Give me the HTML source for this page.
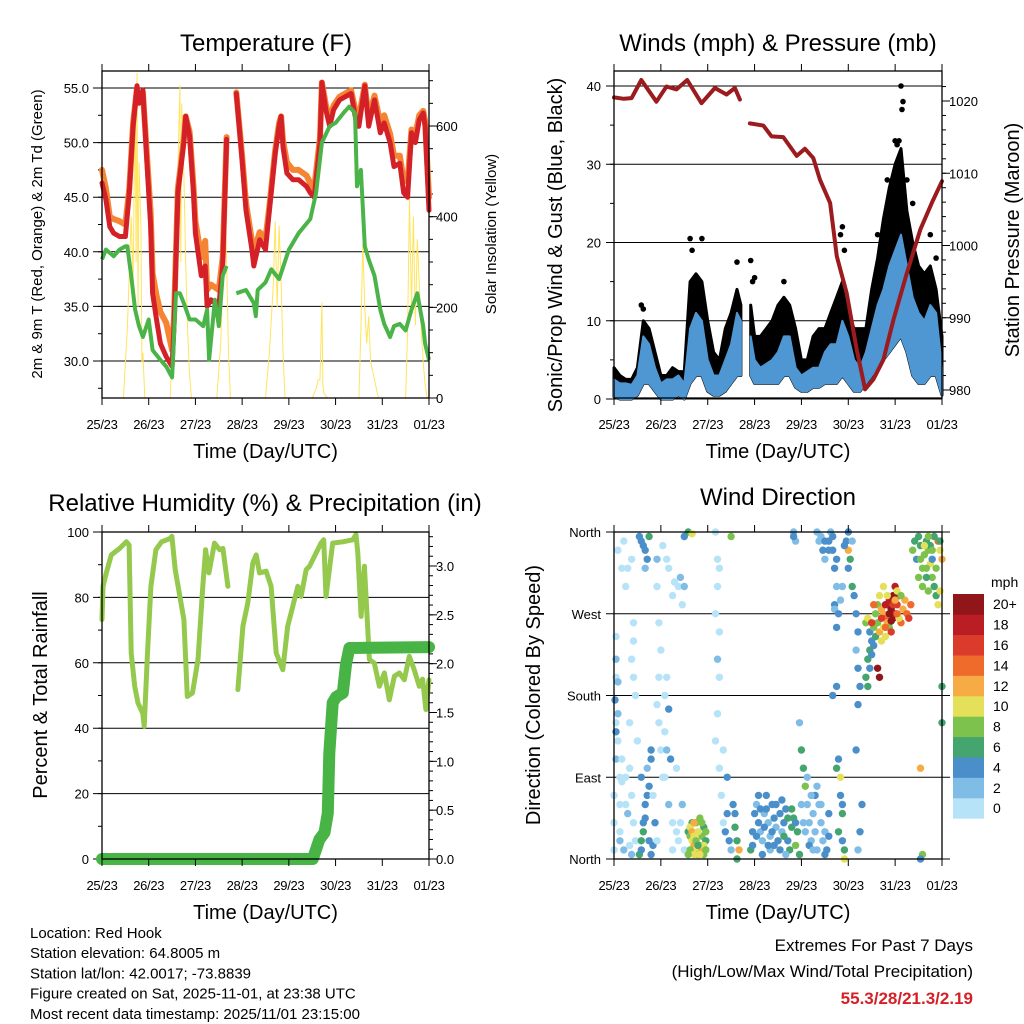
<!DOCTYPE html>
<html><head><meta charset="utf-8"><title>Station Meteogram - Red Hook</title>
<style>
html,body{margin:0;padding:0;background:#fff;}
svg{display:block;font-family:"Liberation Sans",Arial,sans-serif;}
</style></head>
<body>
<svg id="chart" width="1024" height="1024" viewBox="0 0 1024 1024" xmlns="http://www.w3.org/2000/svg"></svg>
<script>
// ---------- DATA ----------
const dayLabels = ["25/23","26/23","27/23","28/23","29/23","30/23","31/23","01/23"];
const tempHours = [0,2,4,6,9,12,14,16,18,19,21,23,25,26,28,30,33,36,37,39,42,43,45,47,48,51,53,54,56,60,62,64,66,69,72,74,77,78,81,84,86,89,91,92,93,95,98,101,105,107,109,112,113,115,117,119,122,125,128,131,132,135,137,140,143,145,148,150,153,155,157,159,161,163,165,166,168];
const temp2m = [46.3,44.8,42.3,41.7,41.4,41.4,45.4,51.5,55.2,53.6,54.8,48.4,42.3,36.2,33.8,31.6,30.4,29.5,33.2,45.4,50,52.4,50.6,45.4,41.7,37.8,38.7,35,35.6,35,38.7,50.3,null,54.5,48.4,43.8,40.2,38.7,41.1,40.2,43.8,49,51.5,52.4,49.6,47.2,46.6,46.6,46,45.4,45,50,55.5,53,51.5,53,53.9,54.2,54.5,51.5,51.5,55.2,51.5,53.9,50.9,51.8,50,47.8,48.1,45.4,45,50.9,50,52.1,52.7,51.5,43.8];
const temp9m = [47.5,45.8,43.2,43,42.8,42.5,45.8,51.8,55,53.8,54.6,49,43.5,38,36,34.5,33.5,31,34,45.8,50.3,52.4,51,46,42.8,39.5,41,36.5,37,36.5,39.5,50.5,null,54.6,48.8,44.5,41,40,41.8,41.2,44.2,49.3,51.8,52.4,50.2,48.2,47.5,47.5,47,46.3,45.8,50.5,55.5,53.5,52,53.4,54.2,54.5,54.8,52.3,52.3,55.3,52.2,54.3,51.8,52.5,50.8,48.8,48.8,46.5,46.5,51.2,50.8,52.5,52.9,52,45];
const dewHours = [0,2,6,9,12,13,15,17,19,21,24,26,30,33,36,38,40,42,45,48,52,54,55,58,60,62,64,66,69,74,78,79,80,84,87,91,96,101,107,110,113,117,120,124,127,130,131,133,135,137,140,143,145,148,150,153,156,159,162,165,166,168];
const dewPoint = [39.3,40.2,39.6,40.2,40.5,40.5,37.8,34.7,33.2,32.2,33.8,31,30.1,29.5,28.5,36.2,36.2,35.3,33.8,33.8,33.2,34.7,30.1,35.6,33.2,37.8,38.7,null,36.2,36.5,35.3,34.1,36.5,37.2,38.4,37.5,40.2,41.7,43,45.4,50,51.5,51.8,52.7,53.3,52.7,46,47.5,40.5,39.3,37.8,34.7,33.4,32.2,33.2,33.4,32.8,34.7,36.2,33.2,31.6,30.1];
const solarHours = [0,11,13,15,16,17,17.5,18,18.5,19,20,20.5,21,22,35,37,39,40,40.5,41,42,43,44,45,46,59,61,62,63,64,65,66,84,86,88,89,90,91,92,93,94,108,110,111,112,113,113.5,114,116,132,133,134,135,136,137,138,139,141,142,156,157,158,159,160,161,162,163,164,165,166,167,168];
const solarVals = [0,0,150,400,250,690,300,717,200,520,380,80,100,0,0,200,500,690,300,650,500,300,150,50,0,0,120,260,480,300,100,0,0,100,250,390,200,380,260,100,0,0,20,40,40,210,30,10,0,0,150,340,200,120,180,80,60,20,0,0,150,440,200,400,160,350,250,150,80,30,0,0];
const windHours = [0,3,6,9,12,15,18,21,24,27,30,33,36,39,42,45,48,51,54,57,60,63,65,67,70,72,75,78,81,84,87,90,93,96,99,102,105,108,111,114,117,120,123,126,129,132,135,138,141,144,147,150,153,156,159,162,165,168];
const windHi = [2.5,2,2,1.8,3,8,7,4,2,2.5,2.5,3,2,9,11,10,5,3,3,5,7,11,10,null,8,5,4,4.5,5,6,8,8,4,3,3.5,4,4,6,7,7,10,8,5,4,6,9,12,14,17,19,21,17,13,11,10,12,11,4];
const gustHi = [4,3,2.5,2.5,4,10,9,6,3,3,4,3.5,3.5,15,16,15,10,6,5,9,11,14,12,null,12,8,8,9,10,12,13,12,9,5,5,8,9,9,11,13,15,11,9,9,9,14,18,23,27,30,32,24,20,17,16,17,14,8];
const windLo = [0.3,0,0,0,0.5,2,2,1,0,0,0,0.5,0,2,3,3,1,0.5,0.5,1,2,3,3,null,3,2,2,2,2,2,3,3,1.5,1,1,1.5,1.5,2,2,2,3,2,1,1,2,3,4,5,6,7,8,6,3,2,2,3,3,0.5];
const gustPeakHours = [14,15,39,40,45,63,70,71,72,87,116,117,118,135,140,144,145,146,147,147.5,148,150,153,162,165];
const gustPeakVals = [12,11.5,20.5,19,20.5,17.5,17.7,15,15.5,15,21,22,19,21,28,33,32.5,33,40,37,38,28,25,21,18];
const presHours = [0,5,9,14,21.7,26.9,32,37.5,44.8,51.7,57.6,61.9,64.5,67,69.6,76.5,80.7,86.7,93.6,97.8,102.1,105.5,110.7,114.1,119.2,124.3,128.6,132.9,138,143.2,150,156.9,162.8,168];
const presVals = [1020.5,1020.3,1020.4,1022.9,1019.9,1022,1021.6,1022.9,1019.7,1021.8,1020.9,1021.8,1020.2,null,1016.9,1016.6,1015.1,1015,1012.4,1013.4,1012.1,1009.1,1005.9,998.5,993.4,985.6,980.1,981.5,984.2,989.8,996.2,1002.2,1005.9,1008.9];
const rhHours = [0,0.5,2.2,4.8,9.1,12.5,13.9,15,16.8,18.5,20.9,21.7,23.4,25.1,27.7,30.6,35,35.9,37.6,42.1,43.8,46.5,49.3,51.8,53.2,54.9,57.8,60.4,62.1,64.7,67,69.8,72.4,74.9,77.5,79.2,80.9,84.3,86.9,89.5,92.9,95.4,98,100.6,102.3,104.9,106.6,112.5,113.9,115.1,118.5,123.7,128.8,130.5,131.4,133.1,134.8,137.4,139.9,142.5,145.1,147.6,150.2,152.8,155.3,157.9,160.4,163,164.7,166.4,169];
const rhVals = [73.2,83.4,87.5,93,95,97,96,63,52.8,47.7,44.6,40.6,63,83.4,94.6,97,98,98.7,88.5,73.2,49.7,50.8,61,83.4,94.6,87.5,96.6,94.6,95,83.4,null,51.8,71.2,78.3,90.5,93,87.5,88,83.4,63,57.9,71.2,77.3,83.4,80.3,88.5,89.5,96.6,97.6,80.3,96.6,97,97.6,99.2,93.6,74.2,89.5,61,59.9,52.8,56.9,48.7,55.9,56.9,54.8,62,57.9,52.8,55,45.7,54.8];
const precipHours = [0,108.3,111.7,114.3,116,116.8,118.5,120.3,123.7,125.4,127.1,168];
const precipVals = [0,0,0.2,0.27,0.47,1.08,1.6,1.66,1.7,2.0,2.16,2.17];
const dirHours = [0,0,0,1,1,0.5,1,1,2,2,3,3,4,2,5,4,1,3,5,1,2,4,6,7,9,10,10,9,10,11,8,9,10,11,8,7,6,9,13,14,15,16,17,18,16,13,14,15,16,17,18,15,14,18,19,20,21,19,19,17,22,22,23,24,23,22,23,24,25,25,27,28,30,31,33,35,34,36,27,26,28,26,27,29,28,30,32,33,34,35,36,30,26,32,36,38,40,38,39,40,41,42,43,44,45,46,47,40,42,44,39,41,45,46,47,52,53,54,53,52,54,53,54,53,52,54,55,56,57,58,59,60,61,62,63,64,63,60,58,56,62,70,71,72,73,74,75,76,77,78,79,80,81,82,83,84,85,86,87,88,89,90,91,92,93,94,95,76,88,80,92,93,92,96,97,98,99,100,101,102,103,104,105,106,107,108,109,110,97,100,103,95,104,105,106,107,108,110,111,112,113,114,113,114,113,112,114,115,114,116,116,117,117,115,117,118,118,120,121,122,123,124,125,124,125,126,125,124,127,126,125,115,116,117,119,120,129,130,131,132,131,130,129,130,131,132,133,134,133,135,134,135,136,137,138,139,140,141,142,143,144,145,146,147,148,149,150,151,152,136,137,138,139,140,141,142,143,144,145,146,147,133,132,138,140,135,136,153,154,155,156,157,158,159,160,161,162,163,164,165,166,167,168,166,164,162,160,158,156,167,163,161,157,158,157,168,168];
const dirDeg = [10,40,70,110,150,175,200,220,160,130,60,30,85,340,350,320,245,20,10,140,195,110,300,320,330,260,240,220,200,180,100,70,40,20,15,50,90,5,355,350,345,340,330,355,320,5,20,40,60,70,80,30,10,20,5,15,40,120,110,100,330,300,260,230,150,170,200,120,90,345,330,320,290,305,300,280,310,300,200,180,165,140,120,110,60,40,30,20,40,60,10,10,90,100,355,360,358,30,25,20,15,10,5,15,25,35,20,40,40,45,10,5,10,5,30,360,330,320,300,270,250,220,200,160,130,100,70,40,30,50,20,10,60,35,20,10,0,355,90,120,50,10,30,50,60,40,30,20,50,70,40,25,60,45,35,20,50,30,40,55,20,10,35,45,15,30,5,5,5,10,360,350,355,120,100,80,60,40,20,50,30,10,60,40,20,30,10,50,40,15,70,150,360,350,355,340,330,350,360,340,320,300,280,255,275,180,190,110,100,90,70,60,50,30,20,10,0,340,330,300,290,270,250,230,210,190,170,120,60,30,10,270,285,300,350,360,260,265,250,240,230,220,200,190,210,225,235,245,255,260,270,280,290,275,270,265,280,285,275,265,270,280,290,260,275,285,270,265,280,250,240,255,245,260,255,250,290,300,295,265,290,280,260,300,290,210,200,340,350,330,355,345,320,335,350,340,325,310,300,290,280,295,330,350,355,345,320,300,310,350,330,295,100,5,0,190,150];
const dirSpeed = [1,1,0,3,1,4,1,3,3,1,1,1,1,1,0,0,1,3,2,4,3,1,0,1,1,1,1,0,1,1,1,1,1,1,0,2,1,2,5,4,4,5,4,6,2,6,6,5,4,4,5,7,5,4,4,4,4,4,4,2,2,1,1,1,1,1,1,1,1,1,1,1,0,1,1,1,2,2,1,1,4,1,2,4,2,1,1,1,1,2,0,1,1,1,4,6,10,7,8,10,12,10,12,9,8,7,6,7,8,8,8,10,12,9,8,1,1,1,1,1,1,3,1,1,1,1,1,1,4,4,4,3,4,6,6,12,7,8,4,1,4,6,5,4,3,4,3,3,3,4,3,3,4,4,3,4,4,3,4,4,5,6,6,7,8,7,6,4,3,3,2,2,4,6,7,8,2,2,2,2,2,2,2,2,2,3,4,4,3,4,4,2,2,2,2,4,2,4,3,4,4,3,4,4,3,4,4,4,6,10,4,4,7,6,4,7,10,12,6,6,4,4,4,2,4,4,4,4,4,4,2,4,2,3,4,4,8,10,4,4,6,6,6,6,4,4,4,6,8,8,8,8,10,12,12,14,16,18,20,20,18,16,20,14,12,12,14,16,14,12,10,10,10,12,8,16,20,18,10,10,8,14,16,10,10,20,22,8,6,4,6,6,8,8,6,8,10,8,6,6,10,10,12,14,6,6,8,8,8,6,4,8,12,8,4,6,6,2,2];
const dirHoursB = [38,39,40,41,42,43,44,45,46,47,41,43,71,73,75,77,79,81,83,85,87,89,91,93,74,78,82,86,96,98,99,101,102,104,106,108,110,3,6,8,12,14,16,20,22,108,110,112,114,118,120,122,137,139,141,143,145,139,142,144,157,159,161,163,165,167,160];
const dirDegB = [5,35,30,25,20,30,5,40,15,10,40,15,15,25,55,35,15,30,60,10,25,45,55,40,70,55,15,65,60,30,90,70,10,80,60,5,25,90,60,150,130,90,45,70,20,350,340,355,330,345,320,350,265,280,270,280,270,255,262,285,330,345,355,340,320,340,310];
const dirSpeedB = [8,10,12,10,8,10,10,8,10,8,12,6,4,4,4,4,4,4,4,4,6,6,6,4,4,4,4,4,2,2,2,2,2,2,2,4,4,1,1,1,1,4,4,1,1,4,4,4,4,4,4,2,16,18,20,16,14,14,20,12,8,10,8,8,8,10,6];
const speedColors = ["#b6e3f8","#80bde6","#4a8fc9","#45a56f","#7cc24c","#e5e05a","#f6ab44","#ee6b2c","#da3b2b","#bb1d24","#901619"];
const speedLabels = ["0","2","4","6","8","10","12","14","16","18","20+"];

// ---------- DRAWING ----------
const NS = "http://www.w3.org/2000/svg";
const svg = document.getElementById("chart");
function mk(tag, attrs, parent) {
  const e = document.createElementNS(NS, tag);
  for (const k in attrs) e.setAttribute(k, attrs[k]);
  (parent || svg).appendChild(e);
  return e;
}
function txt(str, x, y, size, anchor, parent, extra) {
  const t = mk("text", Object.assign({x: x, y: y, "font-size": size, "text-anchor": anchor || "middle", fill: "#000"}, extra || {}), parent);
  t.textContent = str;
  return t;
}
function pathFrom(xs, ys, X, Y) {
  let d = "", pen = false;
  for (let i = 0; i < xs.length; i++) {
    if (ys[i] === null) { pen = false; continue; }
    d += (pen ? "L" : "M") + X(xs[i]).toFixed(1) + "," + Y(ys[i]).toFixed(1);
    pen = true;
  }
  return d;
}
function bandFrom(xs, lo, hi, X, Y) {
  let d = "", segs = [], cur = [];
  for (let i = 0; i < xs.length; i++) {
    if (hi[i] === null) { if (cur.length) segs.push(cur); cur = []; continue; }
    cur.push(i);
  }
  if (cur.length) segs.push(cur);
  segs.forEach(s => {
    s.forEach((i, k) => { d += (k ? "L" : "M") + X(xs[i]).toFixed(1) + "," + Y(hi[i]).toFixed(1); });
    s.slice().reverse().forEach(i => { d += "L" + X(xs[i]).toFixed(1) + "," + Y(lo[i]).toFixed(1); });
    d += "Z";
  });
  return d;
}
function timeAxis(p, g) {
  for (let i = 0; i < dayLabels.length; i++) {
    const x = p.x0 + i * (p.x1 - p.x0) / 7;
    mk("line", {x1: x, y1: p.y1, x2: x, y2: p.y1 + 7, stroke: "#000", "stroke-width": 1}, g);
    mk("line", {x1: x, y1: p.y0, x2: x, y2: p.y0 - 7, stroke: "#000", "stroke-width": 1}, g);
    const t = txt(dayLabels[i], x, p.y1 + 31, 13, "middle", g, {"letter-spacing": "-0.3"});
    
    
  }
  const xt = txt("Time (Day/UTC)", (p.x0 + p.x1) / 2, p.y1 + 60, 20, "middle", g);
  
  
}
function leftTicks(p, g, Y, vals, labels, minors, gx0, gx1) {
  minors.forEach(v => mk("line", {x1: p.x0, y1: Y(v), x2: p.x0 - 4, y2: Y(v), stroke: "#000", "stroke-width": 1}, g));
  vals.forEach((v, i) => {
    const gl = mk("line", {x1: gx0, y1: Y(v), x2: gx1, y2: Y(v), stroke: "#000", "stroke-width": 1}, g);
    
    
    const t = txt(labels[i], p.x0 - 13, Y(v) + 5, 13, "end", g);
    
    
  });
}
function rightTicks(p, g, Y, vals, labels, minors) {
  minors.forEach(v => mk("line", {x1: p.x1, y1: Y(v), x2: p.x1 + 4, y2: Y(v), stroke: "#000", "stroke-width": 1}, g));
  vals.forEach((v, i) => {
    mk("line", {x1: p.x1, y1: Y(v), x2: p.x1 + 8, y2: Y(v), stroke: "#000", "stroke-width": 1}, g);
    const t = txt(labels[i], p.x1 + 7, Y(v) + 5, 13, "start", g);
    
    
  });
}
function box(p, g) {
  const r = mk("rect", {x: p.x0, y: p.y0, width: p.x1 - p.x0, height: p.y1 - p.y0, fill: "none", stroke: "#000", "stroke-width": 1.3}, g);
  
  
}
function vlabel(str, x, y, size, g) {
  return txt(str, 0, 0, size, "middle", g, {transform: "translate(" + x + "," + y + ") rotate(-90)"});
}
function range(a, b, s) { const r = []; for (let v = a; v <= b + 1e-9; v += s) r.push(+v.toFixed(3)); return r; }

// ===== Panel 1 =====
const p1 = {x0: 102, x1: 429, y0: 71, y1: 398};
const g1 = mk("g", {});


const X1 = h => p1.x0 + h / 168 * (p1.x1 - p1.x0);
const T1 = v => 88 + (55 - v) * 10.92;
const S1 = w => 398 - w * 0.4533;
const t1 = txt("Temperature (F)", 266, 51, 24, "middle", g1);


leftTicks(p1, g1, T1, [30,35,40,45,50,55], ["30.0","35.0","40.0","45.0","50.0","55.0"], range(27.5, 55, 2.5), 93, 429);
rightTicks(p1, g1, S1, [0,200,400,600], ["0","200","400","600"], range(0, 700, 50));
const sol = mk("path", {d: pathFrom(solarHours, solarVals, X1, S1), fill: "none", stroke: "#ffe45c", "stroke-width": 1}, g1);


const o9 = mk("path", {d: pathFrom(tempHours, temp9m, X1, T1), fill: "none", stroke: "#f58433", "stroke-width": 6, "stroke-linejoin": "round", "stroke-linecap": "round"}, g1);


const r2 = mk("path", {d: pathFrom(tempHours, temp2m, X1, T1), fill: "none", stroke: "#d42127", "stroke-width": 5, "stroke-linejoin": "round", "stroke-linecap": "round"}, g1);


const dw = mk("path", {d: pathFrom(dewHours, dewPoint, X1, T1), fill: "none", stroke: "#4bb448", "stroke-width": 4, "stroke-linejoin": "round"}, g1);


box(p1, g1);
timeAxis(p1, g1);
const yl1 = vlabel("2m & 9m T (Red, Orange) & 2m Td (Green)", 42, 234, 15, g1);


const yr1 = vlabel("Solar Insolation (Yellow)", 496, 234, 15, g1);



// ===== Panel 2 =====
const p2 = {x0: 614, x1: 942, y0: 71, y1: 398};
const g2 = mk("g", {});


const X2 = h => p2.x0 + h / 168 * (p2.x1 - p2.x0);
const W2 = v => 399 - v * 7.825;
const P2 = v => 101 + (1020 - v) * 7.225;
const t2 = txt("Winds (mph) & Pressure (mb)", 778, 51, 24, "middle", g2);


leftTicks(p2, g2, W2, [0,10,20,30,40], ["0","10","20","30","40"], range(0, 40, 5), 606, 942);
rightTicks(p2, g2, P2, [980,990,1000,1010,1020], ["980","990","1000","1010","1020"], range(980, 1022, 2));
const gust = mk("path", {d: bandFrom(windHours, windLo, gustHi, X2, W2), fill: "#000", stroke: "#000", "stroke-width": 3, "stroke-linejoin": "round"}, g2);


for (let i = 0; i < gustPeakHours.length; i++) {
  const c = mk("circle", {cx: X2(gustPeakHours[i]).toFixed(1), cy: W2(gustPeakVals[i]).toFixed(1), r: 2.8, fill: "#000"}, g2);
  
  
}
const wind = mk("path", {d: bandFrom(windHours, windLo, windHi, X2, W2), fill: "#4f97d3", stroke: "#4f97d3", "stroke-width": 2, "stroke-linejoin": "round"}, g2);


const pres = mk("path", {d: pathFrom(presHours, presVals, X2, P2), fill: "none", stroke: "#9c1b1e", "stroke-width": 4, "stroke-linejoin": "round", "stroke-linecap": "round"}, g2);


box(p2, g2);
timeAxis(p2, g2);
const yl2 = vlabel("Sonic/Prop Wind & Gust (Blue, Black)", 562, 245, 20, g2);


const yr2 = vlabel("Station Pressure (Maroon)", 1019, 240, 20, g2);



// ===== Panel 3 =====
const p3 = {x0: 102, x1: 429, y0: 532, y1: 859};
const g3 = mk("g", {});


const X3 = h => p3.x0 + Math.min(h, 168) / 168 * (p3.x1 - p3.x0);
const R3 = v => 859 - v * 3.27;
const Q3 = v => 859 - v * 97.67;
const t3 = txt("Relative Humidity (%) & Precipitation (in)", 265, 511, 24, "middle", g3);


leftTicks(p3, g3, R3, [0,20,40,60,80,100], ["0","20","40","60","80","100"], range(0, 100, 10), 93, 429);
rightTicks(p3, g3, Q3, [0,0.5,1,1.5,2,2.5,3], ["0.0","0.5","1.0","1.5","2.0","2.5","3.0"], range(0, 3.3, 0.1));
const rh = mk("path", {d: pathFrom(rhHours, rhVals, X3, R3), fill: "none", stroke: "#94c94e", "stroke-width": 5, "stroke-linejoin": "round", "stroke-linecap": "round"}, g3);


const pr = mk("path", {d: pathFrom(precipHours, precipVals, X3, Q3), fill: "none", stroke: "#48b446", "stroke-width": 12, "stroke-linejoin": "round", "stroke-linecap": "round"}, g3);


box(p3, g3);
timeAxis(p3, g3);
const yl3 = vlabel("Percent & Total Rainfall", 47, 695, 20, g3);



// ===== Panel 4 =====
const p4 = {x0: 614, x1: 942, y0: 532, y1: 859};
const g4 = mk("g", {});


const X4 = h => p4.x0 + h / 168 * (p4.x1 - p4.x0);
const D4 = d => 859 - d / 360 * 327;
const t4 = txt("Wind Direction", 778, 505, 24, "middle", g4);


leftTicks(p4, g4, D4, [0,90,180,270,360], ["North","East","South","West","North"], [], 606, 950);
function drawDir(hs, ds, ss) {
  for (let i = 0; i < hs.length; i++) {
    const ci = Math.min(10, Math.floor(ss[i] / 2));
    const c = mk("circle", {cx: X4(hs[i]).toFixed(1), cy: D4(ds[i]).toFixed(1), r: 3.7, fill: speedColors[ci]}, g4);
    
    
  }
}
drawDir(dirHours, dirDeg, dirSpeed);
drawDir(dirHoursB, dirDegB, dirSpeedB);
box(p4, g4);
timeAxis(p4, g4);
const yl4 = vlabel("Direction (Colored By Speed)", 540, 695, 20, g4);


const gc = mk("g", {});


const cbTop = 594, cbH = 20.4;
for (let i = 0; i < speedColors.length; i++) {
  const y = cbTop + (10 - i) * cbH;
  const r = mk("rect", {x: 953, y: y, width: 31, height: cbH + 0.3, fill: speedColors[i]}, gc);
  
  
  const t = txt(speedLabels[i], 993, y + cbH / 2 + 5, 14, "start", gc);
  
  
}
const mph = txt("mph", 991, 587, 14, "start", gc);



// ===== Footer =====
const gf = mk("g", {});


const info = ["Location: Red Hook","Station elevation: 64.8005 m","Station lat/lon: 42.0017; -73.8839","Figure created on Sat, 2025-11-01, at 23:38 UTC","Most recent data timestamp: 2025/11/01 23:15:00"];
info.forEach((s, i) => {
  const t = txt(s, 30, 938 + i * 20.2, 15, "start", gf);
  
  
});
const ge = mk("g", {});


const e1 = txt("Extremes For Past 7 Days", 973, 951, 17, "end", ge);


const e2 = txt("(High/Low/Max Wind/Total Precipitation)", 973, 977, 17, "end", ge);


const e3 = txt("55.3/28/21.3/2.19", 973, 1004, 17, "end", ge, {fill: "#d42127", "font-weight": "bold"});


</script>
</body></html>
